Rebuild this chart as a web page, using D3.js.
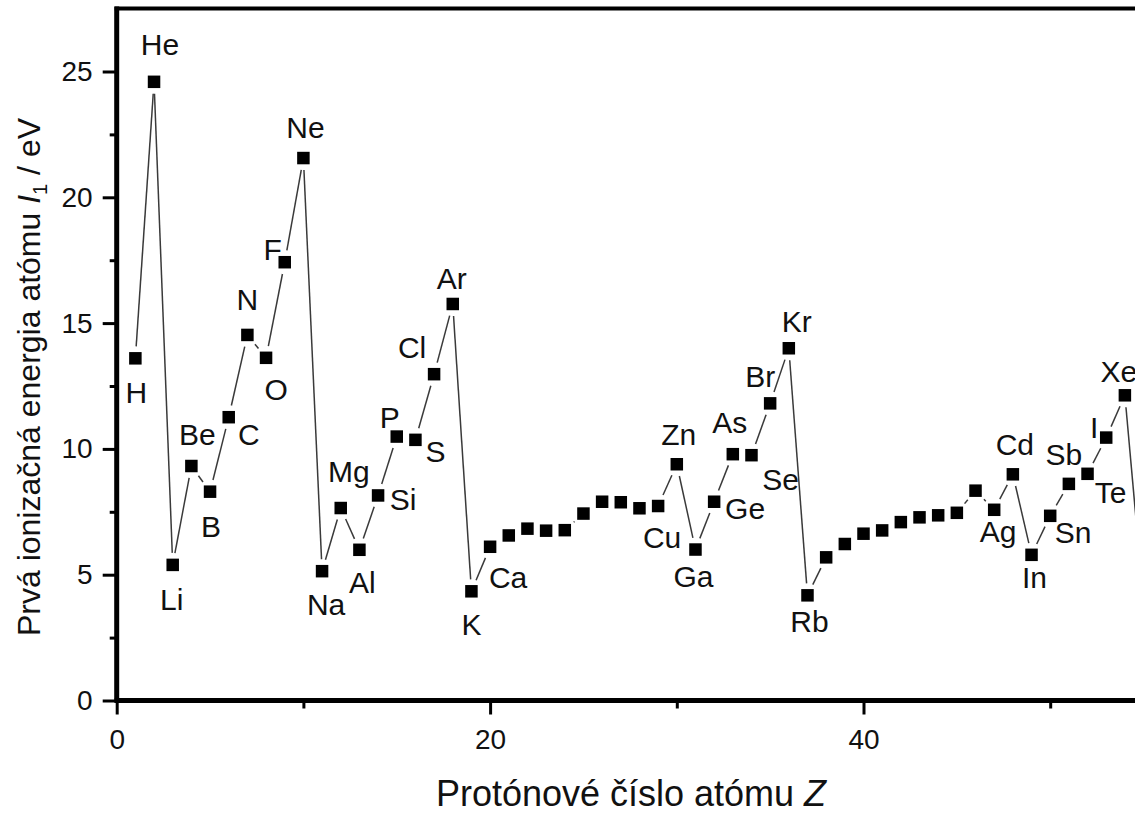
<!DOCTYPE html>
<html>
<head>
<meta charset="utf-8">
<script src="https://cdn.jsdelivr.net/npm/d3@7"></script>
<style>
  html, body { margin: 0; padding: 0; background: #fff; }
  svg { display: block; font-family: "Liberation Sans", Arial, sans-serif; }
</style>
</head>
<body>
<svg id="chart" width="1135" height="815"></svg>
<script>
// ---- data ----
const elements = ["H","He","Li","Be","B","C","N","O","F","Ne",
  "Na","Mg","Al","Si","P","S","Cl","Ar","K","Ca",
  "Sc","Ti","V","Cr","Mn","Fe","Co","Ni","Cu","Zn",
  "Ga","Ge","As","Se","Br","Kr","Rb","Sr","Y","Zr",
  "Nb","Mo","Tc","Ru","Rh","Pd","Ag","Cd","In","Sn",
  "Sb","Te","I","Xe","Cs"];
const protonNumbers = [1,2,3,4,5,6,7,8,9,10,
  11,12,13,14,15,16,17,18,19,20,
  21,22,23,24,25,26,27,28,29,30,
  31,32,33,34,35,36,37,38,39,40,
  41,42,43,44,45,46,47,48,49,50,
  51,52,53,54,55];
const ionizationEnergies = [13.60,24.59,5.39,9.32,8.30,11.26,14.53,13.62,17.42,21.56,
  5.14,7.65,5.99,8.15,10.49,10.36,12.97,15.76,4.34,6.11,
  6.56,6.83,6.75,6.77,7.43,7.90,7.88,7.64,7.73,9.39,
  6.00,7.90,9.79,9.75,11.81,14.00,4.18,5.69,6.22,6.63,
  6.76,7.09,7.28,7.36,7.46,8.34,7.58,8.99,5.79,7.34,
  8.61,9.01,10.45,12.13,3.89];
const xMajorTicks = [0, 20, 40];
const xMinorTicks = [10, 30, 50];
const yMajorTicks = [0, 5, 10, 15, 20, 25];
const yMinorTicks = [2.5, 7.5, 12.5, 17.5, 22.5];
const xTitle = "Protónové číslo atómu ";
const xTitleVar = "Z";

// label placement (pixel offsets from the marker: [dx, baseline dy])
const labelOffsets = {
  H:[1,45], He:[6,-27], Li:[-1,45], Be:[6,-21], B:[1,45], C:[20,28], N:[0,-25],
  O:[10,42], F:[-12,-2], Ne:[2,-20], Na:[4,44], Mg:[8,-26], Al:[3,43], Si:[25,15],
  P:[-7,-9], S:[20,22], Cl:[-22,-16], Ar:[-1,-15], K:[0,44], Ca:[18,41],
  Cu:[4,42], Zn:[2,-19], Ga:[-2,37], Ge:[31,17], As:[-3,-21], Se:[29,35],
  Br:[-10,-16], Kr:[8,-16], Rb:[2,37], Ag:[4,32], Cd:[2,-19], In:[3,33],
  Sn:[23,27], Sb:[-5,-19], Te:[23,29], I:[-12,0], Xe:[-6,-13]
};

const data = elements.map((el, i) => ({el, z: protonNumbers[i], e: ionizationEnergies[i]}));

// ---- layout ----
const x0 = 116.7, pxPerZ = 18.67;
const y0 = 700.5, pxPerEv = 25.16;
const x = d3.scaleLinear().domain([0, 60]).range([x0, x0 + 60 * pxPerZ]);
const y = d3.scaleLinear().domain([0, 27.5]).range([y0, y0 - 27.5 * pxPerEv]);

const svg = d3.select("#chart");
const W = 1135;

// ---- connecting line with gaps around markers ----
const gap = 12;
const segs = [];
for (let i = 0; i < data.length - 1; i++) {
  const a = data[i], b = data[i + 1];
  const ax = x(a.z), ay = y(a.e), bx = x(b.z), by = y(b.e);
  const dx = bx - ax, dy = by - ay, len = Math.hypot(dx, dy);
  if (len <= 2 * gap + 0.5) continue;
  const ux = dx / len, uy = dy / len;
  segs.push([ax + ux * gap, ay + uy * gap, bx - ux * gap, by - uy * gap]);
}
svg.append("g").selectAll("line").data(segs).join("line")
  .attr("x1", d => d[0]).attr("y1", d => d[1])
  .attr("x2", d => d[2]).attr("y2", d => d[3])
  .attr("stroke", "#3a3a3a").attr("stroke-width", 1.5);

// ---- markers ----
const ms = 12.5;
svg.append("g").selectAll("rect").data(data).join("rect")
  .attr("x", d => x(d.z) - ms / 2).attr("y", d => y(d.e) - ms / 2)
  .attr("width", ms).attr("height", ms).attr("fill", "#000");

// ---- labels ----
svg.append("g").selectAll("text").data(data.filter(d => labelOffsets[d.el])).join("text")
  .attr("x", d => x(d.z) + labelOffsets[d.el][0])
  .attr("y", d => y(d.e) + labelOffsets[d.el][1])
  .attr("text-anchor", "middle")
  .attr("font-size", 30).attr("fill", "#111")
  .text(d => d.el);

// ---- axes ----
const axisG = svg.append("g");
const xAxisMajor = d3.axisBottom(x).tickValues(xMajorTicks).tickSize(14).tickPadding(15).tickFormat(d3.format("d"));
const xAxisMinor = d3.axisBottom(x).tickValues(xMinorTicks).tickSize(8).tickFormat("");
const yAxisMajor = d3.axisLeft(y).tickValues(yMajorTicks).tickSize(14).tickPadding(10).tickFormat(d3.format("d"));
const yAxisMinor = d3.axisLeft(y).tickValues(yMinorTicks).tickSize(7).tickFormat("");

function styleAxis(g) {
  g.select(".domain").remove();
  g.selectAll(".tick line").attr("stroke", "#000").attr("stroke-width", 3);
  g.selectAll(".tick text").attr("font-size", 28).attr("fill", "#111")
    .attr("font-family", "'Liberation Sans', Arial, sans-serif");
}
axisG.append("g").attr("transform", `translate(0,${y0})`).call(xAxisMajor).call(styleAxis);
axisG.append("g").attr("transform", `translate(0,${y0})`).call(xAxisMinor).call(styleAxis);
axisG.append("g").attr("transform", `translate(${x0},0)`).call(yAxisMajor).call(styleAxis);
axisG.append("g").attr("transform", `translate(${x0},0)`).call(yAxisMinor).call(styleAxis);

// frame lines
const yTop = y(27.5);
axisG.append("line").attr("x1", x0 - 2).attr("x2", W).attr("y1", y0).attr("y2", y0)
  .attr("stroke", "#000").attr("stroke-width", 5);
axisG.append("line").attr("x1", x0 - 2).attr("x2", W).attr("y1", yTop).attr("y2", yTop)
  .attr("stroke", "#000").attr("stroke-width", 4);
axisG.append("line").attr("x1", x0).attr("x2", x0).attr("y1", yTop - 2).attr("y2", y0 + 2)
  .attr("stroke", "#000").attr("stroke-width", 5);

// ---- axis titles ----
const xt = svg.append("text").attr("x", 631).attr("y", 806)
  .attr("text-anchor", "middle").attr("font-size", 36).attr("fill", "#111");
xt.append("tspan").text(xTitle);
xt.append("tspan").attr("font-style", "italic").text(xTitleVar);

const yt = svg.append("text").attr("transform", "translate(40,377) rotate(-90)")
  .attr("text-anchor", "middle").attr("font-size", 32).attr("fill", "#111");
yt.append("tspan").text("Prvá ionizačná energia atómu ");
yt.append("tspan").attr("font-style", "italic").text("I");
yt.append("tspan").attr("font-size", 20).attr("dy", 7).text("1");
yt.append("tspan").attr("dy", -7).text(" / eV");
</script>
</body>
</html>
